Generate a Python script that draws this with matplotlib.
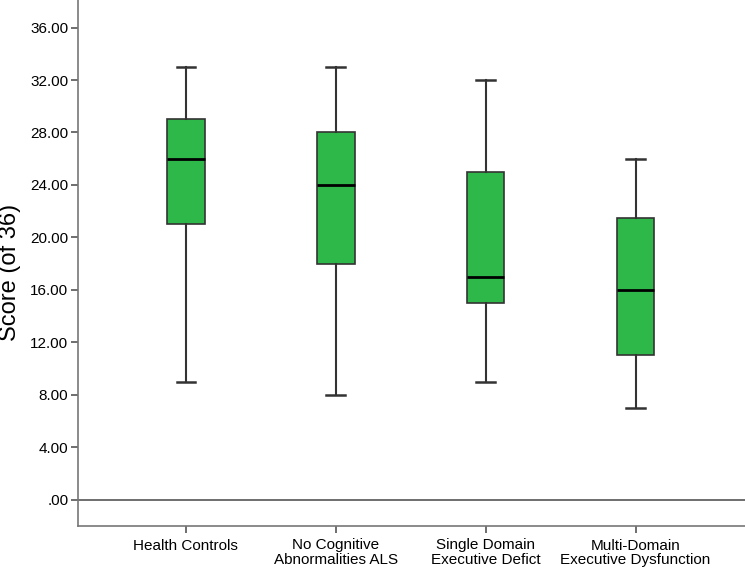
import matplotlib
matplotlib.use("Agg")
import matplotlib.pyplot as plt
from matplotlib.ticker import FixedLocator

categories = ["Health Controls", "No Cognitive\nAbnormalities ALS",
              "Single Domain\nExecutive Defict", "Multi-Domain\nExecutive Dysfunction"]
whisker_low = [9, 8, 9, 7]
q1 = [21, 18, 15, 11]
median = [26, 24, 17, 16]
q3 = [29, 28, 25, 21.5]
whisker_high = [33, 33, 32, 26]
yticks = [0, 4, 8, 12, 16, 20, 24, 28, 32, 36]
ytick_labels = [".00", "4.00", "8.00", "12.00", "16.00", "20.00", "24.00", "28.00", "32.00", "36.00"]

plt.rcParams['font.family'] = ['Liberation Sans', 'DejaVu Sans']

fig = plt.figure(figsize=(7.45, 5.68), dpi=100)
ax = fig.add_axes([78/745, 1 - 526/568, 1 - 78/745, 526/568])

stats = []
for i in range(len(categories)):
    stats.append(dict(whislo=whisker_low[i], q1=q1[i], med=median[i],
                      q3=q3[i], whishi=whisker_high[i], fliers=[], label=categories[i]))

ax.bxp(stats, positions=[1, 2, 3, 4], widths=0.25, patch_artist=True, showfliers=False,
       boxprops=dict(facecolor="#2eb84a", edgecolor="#333333", linewidth=1.2),
       medianprops=dict(color="#000000", linewidth=2.0),
       whiskerprops=dict(color="#333333", linewidth=1.5),
       capprops=dict(color="#333333", linewidth=1.8),
       capwidths=0.125)

ax.axhline(0, color="#555555", linewidth=1.2, zorder=0)

ax.set_xlim(0.28, 4.73)
ax.set_ylim(-2.0, 38.1)
ax.yaxis.set_major_locator(FixedLocator(yticks))
ax.set_yticklabels(ytick_labels, fontsize=11)
ax.set_xticks([1, 2, 3, 4])
ax.set_xticklabels(categories, fontsize=11, linespacing=1.05)
ax.set_ylabel("Score (of 36)", fontsize=17, va="center")
ax.yaxis.set_label_coords(-0.102, 0.483)

for s in ["top", "right"]:
    ax.spines[s].set_visible(False)
for s in ["left", "bottom"]:
    ax.spines[s].set_color("#777777")
    ax.spines[s].set_linewidth(1.2)
ax.tick_params(axis="both", direction="out", color="#555555", width=1.2)
ax.tick_params(axis="y", length=5, pad=2)
ax.tick_params(axis="x", length=5, pad=4)

fig.savefig("out.png", dpi=100)
